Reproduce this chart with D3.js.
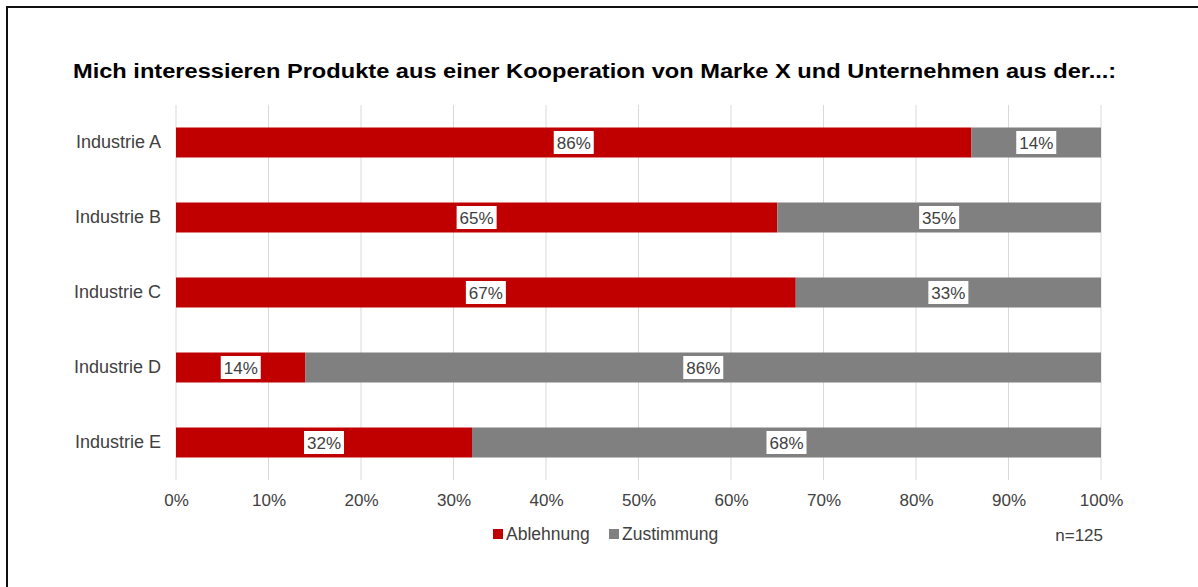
<!DOCTYPE html>
<html>
<head>
<meta charset="utf-8">
<script src="https://cdn.jsdelivr.net/npm/d3@7"></script>
<style>
    body { margin: 0; background: #fff; }
    text { font-family: "Liberation Sans", Arial, sans-serif; }
</style>
</head>
<body>
<svg id="chart" width="1198" height="587"></svg>
<script>
const categories = ["Industrie A", "Industrie B", "Industrie C", "Industrie D", "Industrie E"];
const ablehnung = [86, 65, 67, 14, 32];
const zustimmung = [14, 35, 33, 86, 68];
const seriesNames = ["Ablehnung", "Zustimmung"];
const seriesColors = ["#c00000", "#808080"];
const xTicks = [0, 10, 20, 30, 40, 50, 60, 70, 80, 90, 100];

let svg = d3.select("#chart");

// outer frame
svg.append("rect")
    .attr("x", 7).attr("y", 7)
    .attr("width", 1200).attr("height", 600)
    .attr("fill", "none")
    .attr("stroke", "#111")
    .attr("stroke-width", 2);

let x_scale = d3.scaleLinear().domain([0, 100]).range([176, 1101]);
let y_scale = d3.scaleBand()
    .domain(categories)
    .range([105, 480])
    .paddingInner(0.6)
    .paddingOuter(0.3);

// title (glyphs are a bit stretched sideways in the original)
let title = svg.append("text")
    .attr("x", 0)
    .attr("y", 0)
    .attr("font-size", "20px")
    .attr("font-weight", "bold")
    .attr("fill", "#000")
    .text("Mich interessieren Produkte aus einer Kooperation von Marke X und Unternehmen aus der...:");
let tw = title.node().getComputedTextLength();
title.attr("transform", `translate(73,78) scale(${1044 / tw},1)`);

// gridlines
svg.append("g")
    .selectAll("line")
    .data(xTicks)
    .enter().append("line")
    .attr("x1", d => x_scale(d)).attr("x2", d => x_scale(d))
    .attr("y1", 105).attr("y2", 480)
    .attr("stroke", "#d9d9d9")
    .attr("stroke-width", 1);

// x axis
svg.append("g")
    .attr("transform", "translate(0,480)")
    .call(d3.axisBottom(x_scale).tickValues(xTicks).tickFormat(d => d + "%").tickSize(0).tickPadding(14))
    .call(g => g.select(".domain").remove())
    .call(g => g.selectAll(".tick text")
        .attr("font-family", "Liberation Sans, Arial, sans-serif")
        .style("font-size", "17px")
        .style("fill", "#404040"));

// y axis
svg.append("g")
    .attr("transform", "translate(176,0)")
    .call(d3.axisLeft(y_scale).tickSize(0).tickPadding(15))
    .call(g => g.select(".domain").remove())
    .call(g => g.selectAll(".tick text")
        .attr("font-family", "Liberation Sans, Arial, sans-serif")
        .style("font-size", "18px")
        .style("fill", "#404040"));

// stacked data
let rows = categories.map((c, i) => ({ cat: c, values: [ablehnung[i], zustimmung[i]] }));
let segs = [];
rows.forEach(r => {
    let start = 0;
    r.values.forEach((v, k) => {
        segs.push({ cat: r.cat, k: k, x0: start, x1: start + v, v: v });
        start += v;
    });
});

svg.append("g")
    .selectAll("rect")
    .data(segs)
    .enter().append("rect")
    .attr("x", d => x_scale(d.x0))
    .attr("y", d => y_scale(d.cat))
    .attr("width", d => x_scale(d.x1) - x_scale(d.x0))
    .attr("height", y_scale.bandwidth())
    .attr("fill", d => seriesColors[d.k]);

// value labels with white boxes
let labels = svg.append("g")
    .selectAll("g")
    .data(segs)
    .enter().append("g")
    .attr("transform", d => `translate(${x_scale((d.x0 + d.x1) / 2)},${y_scale(d.cat) + y_scale.bandwidth() / 2})`);

labels.append("rect")
    .attr("x", -20).attr("y", -11.5)
    .attr("width", 40).attr("height", 23)
    .attr("fill", "#fff");

labels.append("text")
    .attr("text-anchor", "middle")
    .attr("dy", "0.36em")
    .attr("font-size", "17px")
    .attr("fill", "#404040")
    .text(d => d.v + "%");

// legend
let legend = svg.append("g").attr("transform", "translate(493,534)");
let legendX = [0, 116];
seriesNames.forEach((name, i) => {
    legend.append("rect")
        .attr("x", legendX[i]).attr("y", -5)
        .attr("width", 10).attr("height", 10)
        .attr("fill", seriesColors[i]);
    legend.append("text")
        .attr("x", legendX[i] + 13)
        .attr("y", 0)
        .attr("dy", "0.35em")
        .attr("font-size", "17.5px")
        .attr("fill", "#404040")
        .text(name);
});

// sample size
svg.append("text")
    .attr("x", 1103)
    .attr("y", 535)
    .attr("dy", "0.35em")
    .attr("text-anchor", "end")
    .attr("font-size", "17px")
    .attr("fill", "#404040")
    .text("n=125");
</script>
</body>
</html>
